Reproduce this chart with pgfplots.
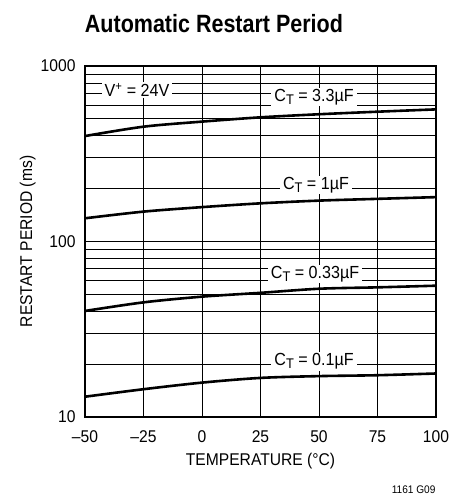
\documentclass[border=0pt]{standalone}
\usepackage{fontspec}
\setmainfont{Liberation Sans}[FakeStretch=0.92]
\newfontfamily\titlefont{Liberation Sans}[FakeStretch=0.86]
\usepackage{pgfplots}
\pgfplotsset{compat=1.18}
\newcommand{\CT}{C\raisebox{-3pt}{\fontsize{14}{15}\selectfont T}}

\begin{document}
\begin{tikzpicture}
  % page = 469 x 496, axis box 351 x 351 at (0,0)
  \path[use as bounding box] (-85pt,-79pt) rectangle (384pt,417pt);
  \begin{axis}[
      scale only axis,
      width=351pt, height=351pt,
      at={(0,0)}, anchor=south west,
      ymode=log,
      xmin=-50, xmax=100,
      ymin=10, ymax=1000,
      xtick={-50,-25,0,25,50,75,100},
      xticklabels={–50,–25,0,25,50,75,100},
      ytick={10,100,1000},
      yticklabels={10,100,1000},
      grid=both,
      major grid style={black, line width=0.8pt},
      minor grid style={black, line width=0.8pt},
      axis line style={line width=1.3pt},
      major tick length=0pt, minor tick length=0pt,
      tick label style={font=\fontsize{17}{19}\selectfont},
      xticklabel style={yshift=-10pt},
      yticklabel style={xshift=-6pt},
      xlabel={TEMPERATURE (°C)},
      ylabel={RESTART PERIOD (ms)},
      label style={font=\fontsize{17}{19}\selectfont},
      xlabel style={at={(axis description cs:0.5,-0.127)}, anchor=center},
      ylabel style={at={(axis description cs:-0.163,0.5)}, anchor=center},
      /pgf/number format/assume math mode=true,
      clip=false,
    ]
    % C_T = 3.3uF
    \addplot[black, line width=2.6pt, smooth] coordinates {
      (-50,399) (-25,451) (0,482) (25,510) (50,531) (75,549) (100,566)
    };
    % C_T = 1uF
    \addplot[black, line width=2.6pt, smooth] coordinates {
      (-50,135.6) (-25,148) (0,157) (25,165) (50,171) (75,175) (100,179)
    };
    % C_T = 0.33uF
    \addplot[black, line width=2.6pt, smooth] coordinates {
      (-50,40.2) (-25,45) (0,48.5) (25,51) (50,53.8) (75,54.8) (100,56)
    };
    % C_T = 0.1uF
    \addplot[black, line width=2.6pt, smooth] coordinates {
      (-50,13.05) (-25,14.4) (0,15.7) (25,16.7) (50,17.1) (75,17.3) (100,17.7)
    };

    \tikzset{lbl/.style={fill=white, inner xsep=3pt, inner ysep=1.5pt, font=\fontsize{17.5}{19}\selectfont}}
    \node[lbl] at (axis cs:-27.8,730) {V\textsuperscript{+} = 24V};
    \node[lbl] at (axis cs:47.9,666) {\CT{} = 3.3µF};
    \node[lbl] at (axis cs:48.7,210) {\CT{} = 1µF};
    \node[lbl] at (axis cs:48.3,65.3) {\CT{} = 0.33µF};
    \node[lbl] at (axis cs:47.9,20.8) {\CT{} = 0.1µF};
  \end{axis}
  \node[font=\titlefont\bfseries\fontsize{25}{28}\selectfont] at (129pt,393pt) {Automatic Restart Period};
  \node[font=\fontsize{11}{12}\selectfont, anchor=east] at (354pt,-73pt) {1161 G09};
\end{tikzpicture}
\end{document}
